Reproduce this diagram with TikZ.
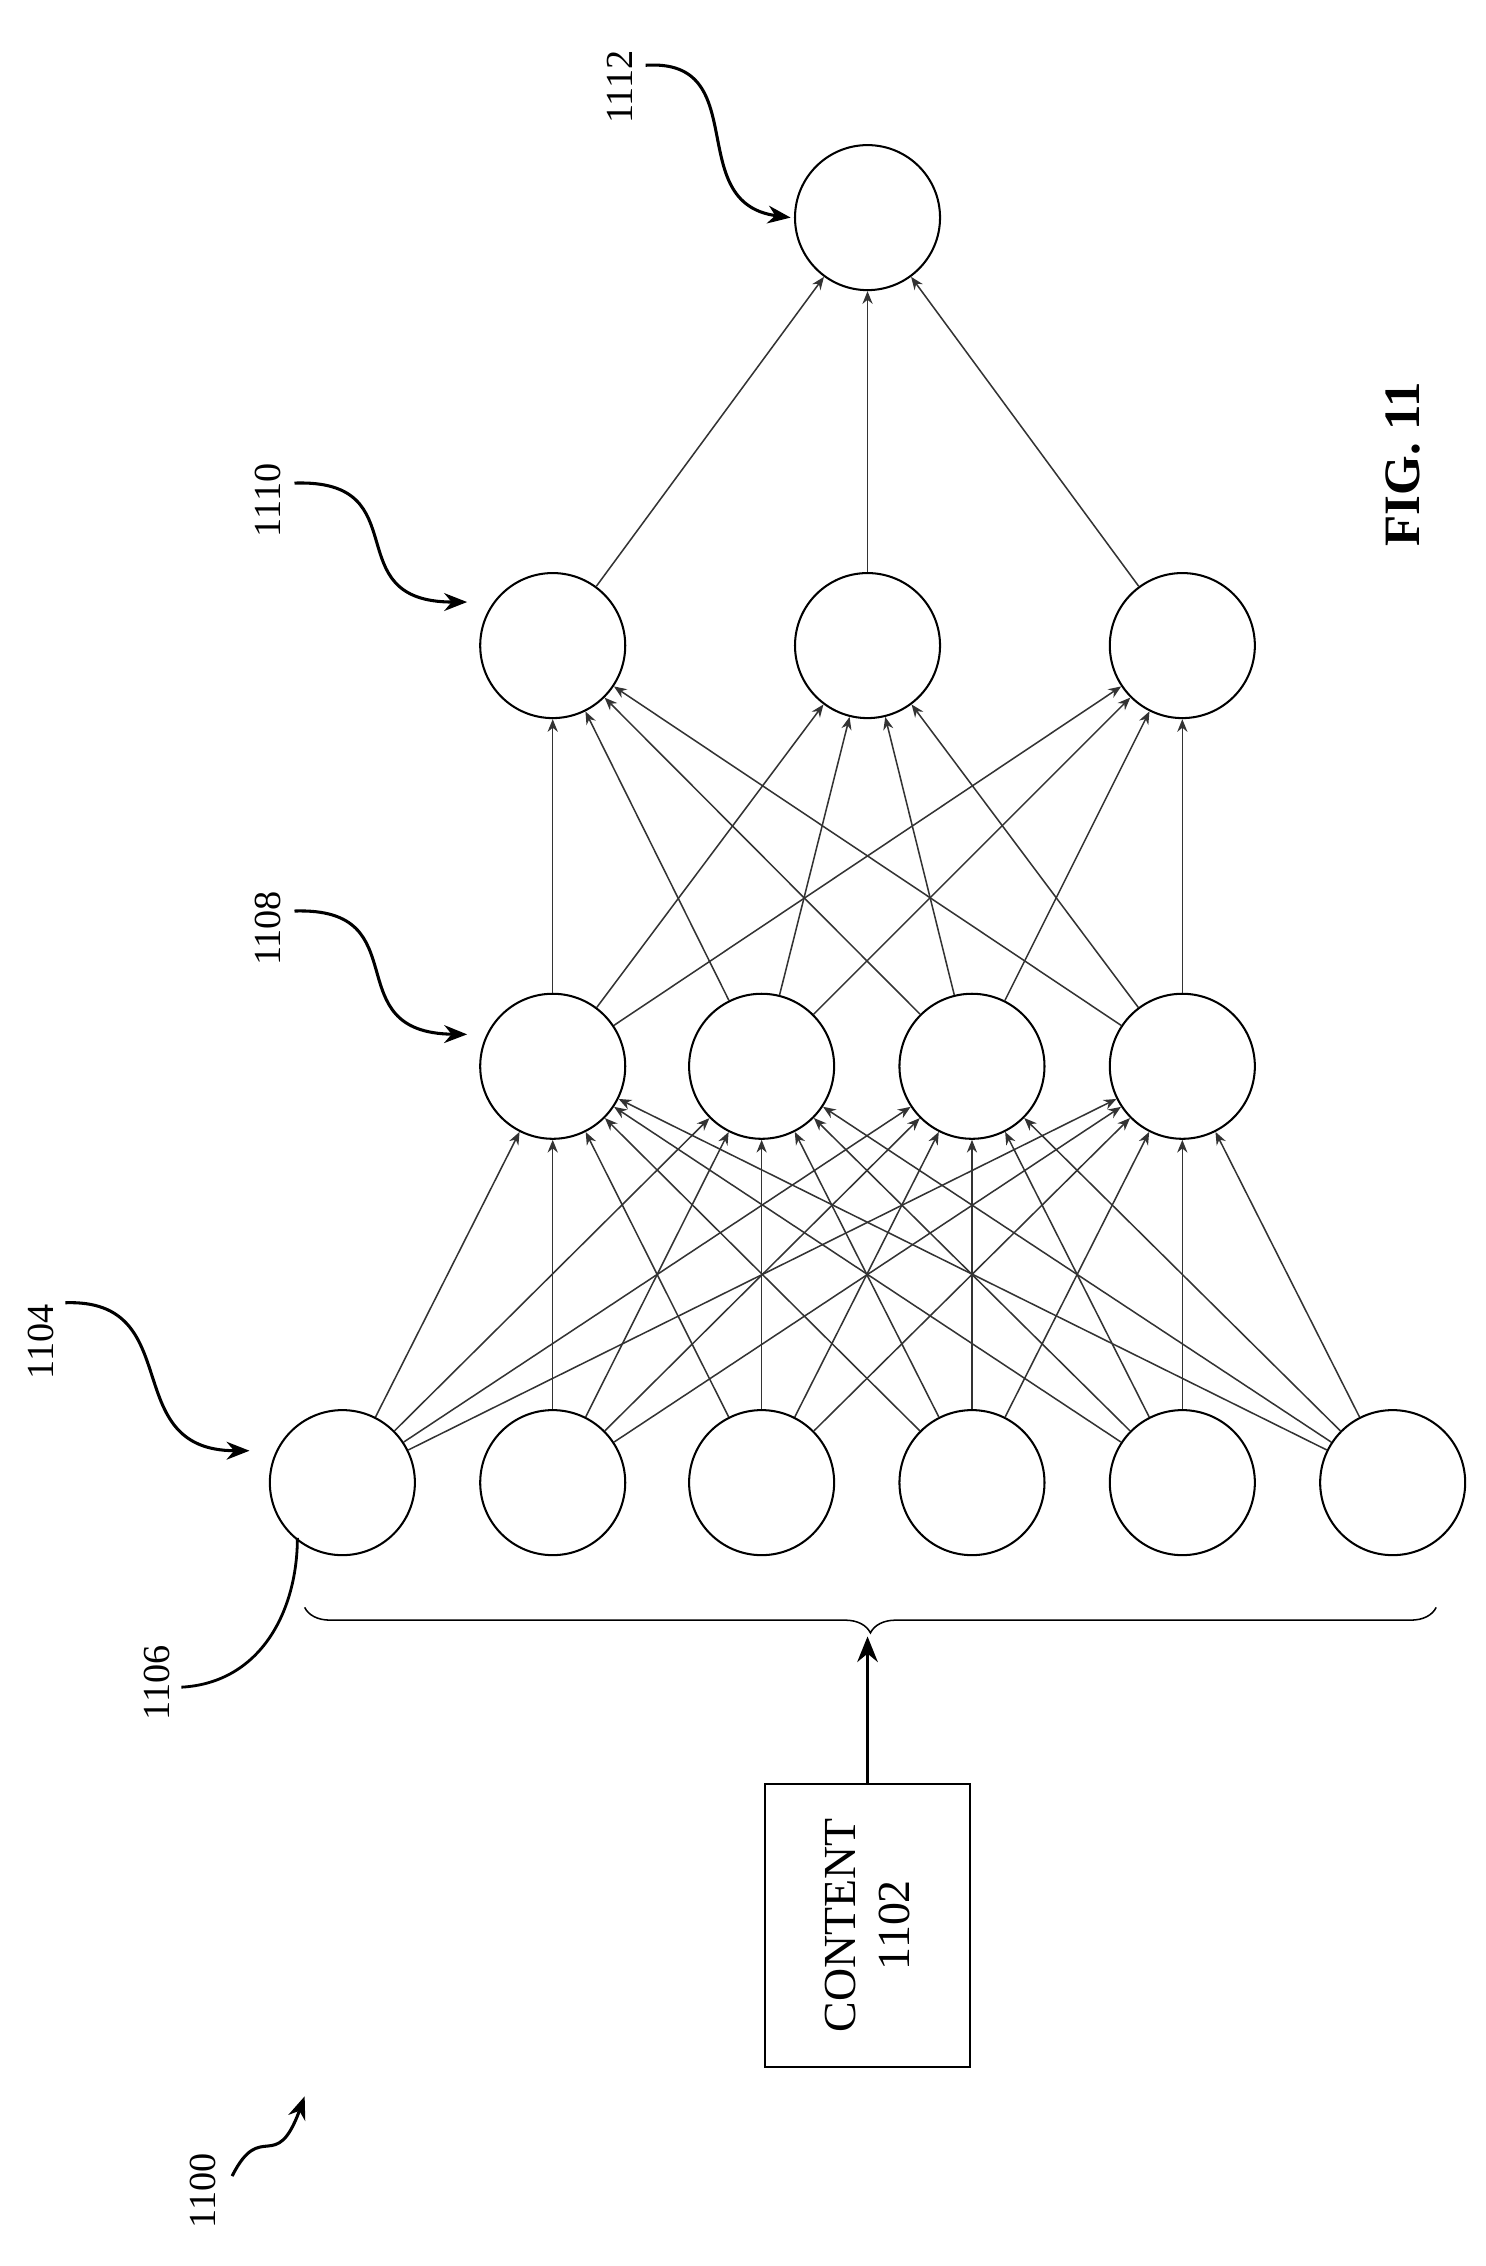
\documentclass[tikz,border=0pt]{standalone}
\usepackage{fontspec}
\setmainfont{Liberation Serif}
\usetikzlibrary{arrows.meta,decorations.pathreplacing}
\begin{document}
\begin{tikzpicture}[x=0.02cm,y=-0.02cm,
  neuron/.style={circle,draw,line width=0.8pt,minimum size=2cm,inner sep=0pt},
  conn/.style={draw=black!80,line width=0.6pt,-{Stealth[length=5pt,width=4pt]}},
  lab/.style={rotate=90,font=\fontsize{15}{17}\selectfont},
  lead/.style={line width=1.2pt,-{Stealth[length=9pt,width=7pt]}}]
\useasboundingbox (0,0) rectangle (1024,1562);
\node[neuron] (o1) at (598,150) {};
\foreach \i/\x in {1/381,2/598,3/815} \node[neuron] (h\i) at (\x,445) {};
\foreach \i/\x in {1/381,2/525,3/670,4/815} \node[neuron] (g\i) at (\x,735) {};
\foreach \i/\x in {1/236,2/381,3/525,4/670,5/815,6/960} \node[neuron] (n\i) at (\x,1022) {};
\foreach \a in {1,...,6} \foreach \b in {1,...,4} \draw[conn] (n\a) -- (g\b);
\foreach \a in {1,...,4} \foreach \b in {1,...,3} \draw[conn] (g\a) -- (h\b);
\foreach \a in {1,...,3} \draw[conn] (h\a) -- (o1);
\draw[decorate,decoration={brace,amplitude=10pt,mirror},line width=0.6pt] (210,1108) -- coordinate[pos=0.5] (bt) (990,1108);
\coordinate (bt2) at (598,1128);
\node[draw,line width=0.8pt,minimum width=2.82cm,minimum height=3.9cm] (box) at (598,1327) {};
\node[lab,align=center,font=\fontsize{18}{21}\selectfont] at (box) {CONTENT\\1102};
\draw[line width=1.5pt,-{Stealth[length=10pt,width=8pt]}] (box.north) -- (bt2);
% labels
\node[lab] (l1112) at (427,60) {1112};
\draw[lead] (445,45) .. controls (520,40) and (470,140) .. (545,150);
\node[lab] (l1110) at (185,345) {1110};
\draw[lead] (203,333) .. controls (290,330) and (230,415) .. (322,415);
\node[lab] (l1108) at (185,640) {1108};
\draw[lead] (203,628) .. controls (290,625) and (230,712) .. (322,713);
\node[lab] (l1104) at (28,925) {1104};
\draw[lead] (45,898) .. controls (130,895) and (80,1000) .. (172,1000);
\node[lab] (l1106) at (108,1160) {1106};
\draw[line width=1.1pt] (125,1163) .. controls (180,1160) and (205,1110) .. (205,1060);
\node[lab] (l1100) at (140,1510) {1100};
\draw[lead] (160,1500) .. controls (180,1460) and (190,1500) .. (210,1445);
\node[rotate=90,font=\bfseries\fontsize{20}{24}\selectfont] (fig) at (967,320) {FIG. 11};
\end{tikzpicture}
\end{document}
